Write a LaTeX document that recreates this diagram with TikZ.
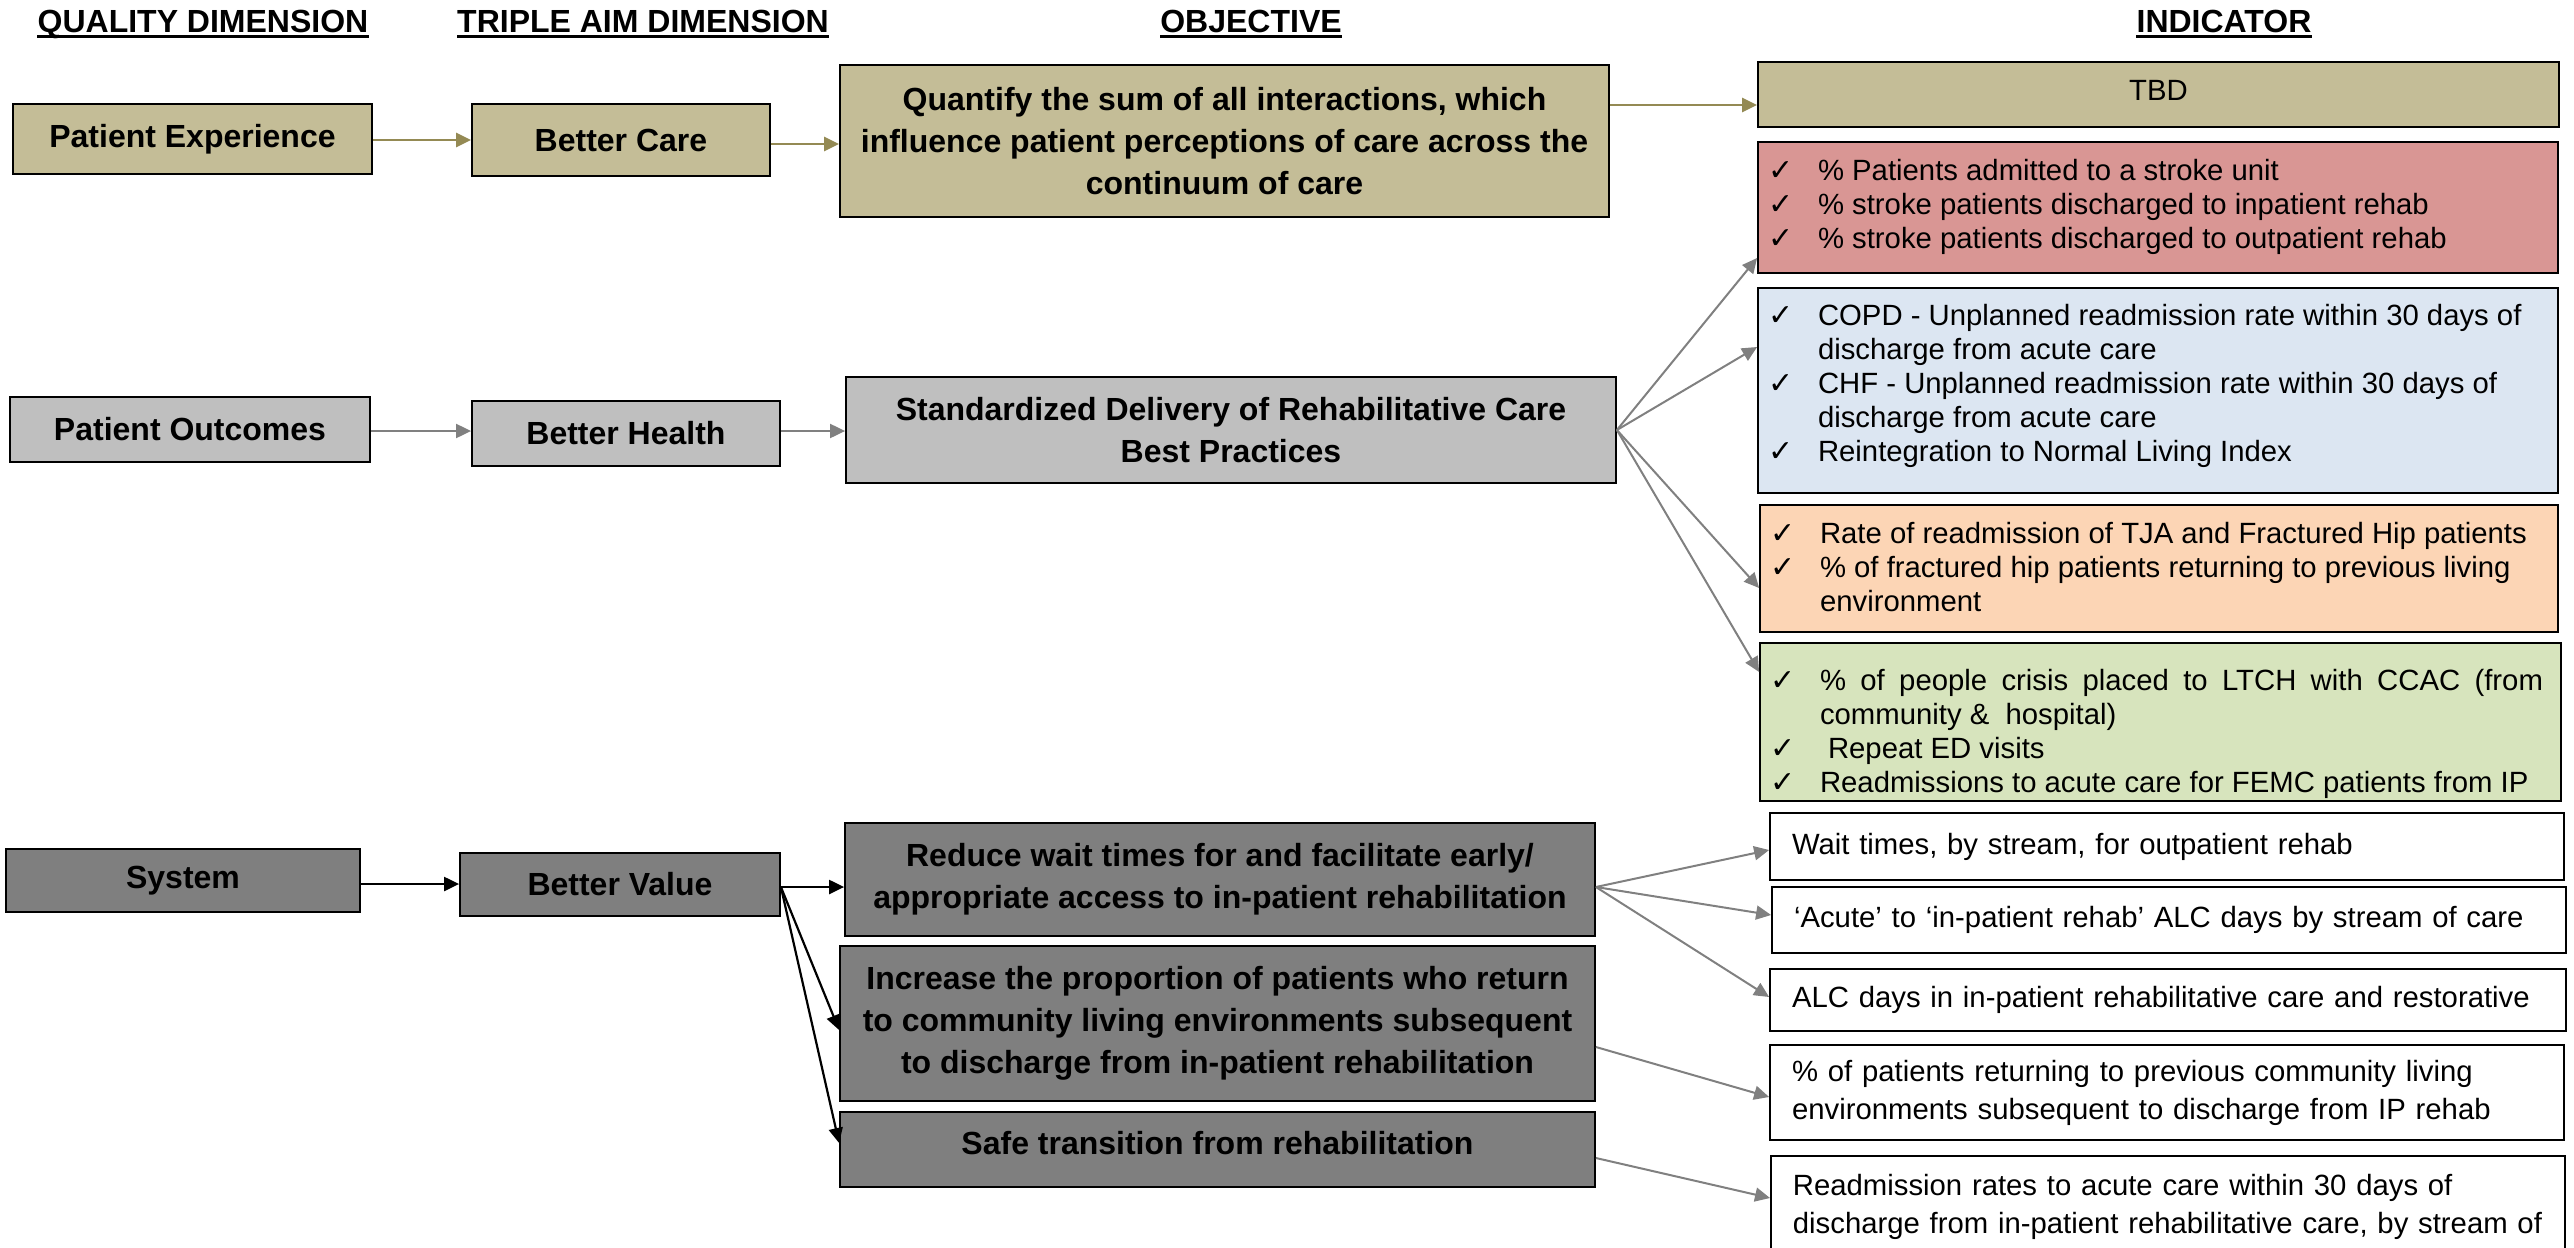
\documentclass[tikz,border=0pt]{standalone}
\usepackage{fontspec}
\setmainfont{Liberation Sans}
\newfontfamily\symf{DejaVu Sans}
\usetikzlibrary{arrows.meta,calc}
\definecolor{tanA}{HTML}{C4BD97}
\definecolor{oliveA}{HTML}{948A54}
\definecolor{lgray}{HTML}{BFBFBF}
\definecolor{dgray}{HTML}{7F7F7F}
\definecolor{redA}{HTML}{D99694}
\definecolor{blueA}{HTML}{DCE6F2}
\definecolor{orangeA}{HTML}{FCD5B5}
\definecolor{greenA}{HTML}{D7E4BD}
\definecolor{arrgray}{HTML}{808080}
\newlength\chkind \setlength\chkind{50pt}
\newcommand\chkA{\noindent\hangindent=\chkind\hangafter=1\makebox[\chkind][l]{{\symf\fontsize{30}{34}\selectfont ✓}}}
\newcommand\chk{\par\chkA}
\newcommand\indbox[2]{\begin{minipage}[t]{#1}\leftskip=0pt\rightskip=0pt\parfillskip=0pt plus 1fil\parindent=0pt #2\par\end{minipage}}
\tikzset{
 bx/.style={draw=black, line width=1.8pt, inner sep=0pt, align=center},
 lab/.style={bx, font=\fontsize{32}{42}\selectfont\bfseries},
 ind/.style={draw=black, line width=1.8pt, inner xsep=10pt, inner ysep=0pt, text height=21pt, font=\fontsize{29.3}{34}\selectfont},
 wbox/.style={draw=black, line width=1.8pt, fill=white, inner xsep=22pt, inner ysep=0pt, align=left, font=\fontsize{29.3}{38}\selectfont},
 hdr/.style={inner sep=0pt, font=\fontsize{32}{38}\selectfont\bfseries, anchor=base},
 arr/.style={-{Triangle[length=15pt,width=14pt]}},
 oarr/.style={arr, color=oliveA, line width=2.8pt},
 garr/.style={arr, color=arrgray, line width=2pt},
 barr/.style={arr, color=black, line width=2.2pt},
}
\begin{document}
\begin{tikzpicture}[x=1pt,y=-1pt]
\useasboundingbox (0,0) rectangle (2574,1247);
\clip (0,0) rectangle (2574,1247);
% headers
\node[hdr] (h1) at (203,33) {QUALITY DIMENSION};
\node[hdr] (h2) at (643,33) {TRIPLE AIM DIMENSION};
\node[hdr] (h3) at (1251,33) {OBJECTIVE};
\node[hdr] (h4) at (2224,33) {INDICATOR};
\foreach \h in {h1,h2,h3,h4}
  \draw[line width=3.5pt] ($(\h.base west)+(0,3.5)$) -- ($(\h.base east)+(0,3.5)$);
% row 1
\node[lab, fill=tanA, minimum width=359pt, minimum height=70pt] (pe) at (192.5,139) {Patient Experience};
\node[lab, fill=tanA, minimum width=298pt, minimum height=72pt] (bc) at (621,140) {Better Care};
\node[lab, fill=tanA, minimum width=769pt, minimum height=152pt] (q) at (1224.5,141) {Quantify the sum of all interactions, which\\ influence patient perceptions of care across the\\ continuum of care};
\node[bx, fill=tanA, minimum width=801pt, minimum height=65pt, font=\fontsize{29.3}{34}\selectfont, text depth=8pt] (tbd) at (2158.5,94.5) {TBD};
% indicator lists
\node[ind, fill=redA, minimum height=131pt, text depth=76pt] (red) at (2158,207.5) {\indbox{780pt}{%
\chkA \% Patients admitted to a stroke unit
\chk \% stroke patients discharged to inpatient rehab
\chk \% stroke patients discharged to outpatient rehab}};
\node[ind, fill=blueA, minimum height=205pt, text depth=152pt] (blue) at (2158,390.5) {\indbox{780pt}{%
\chkA COPD - Unplanned readmission rate within 30 days of\newline discharge from acute care
\chk CHF - Unplanned readmission rate within 30 days of\newline discharge from acute care
\chk Reintegration to Normal Living Index}};
\node[ind, fill=orangeA, minimum height=127pt, text depth=72pt] (orange) at (2159,568.5) {\indbox{778pt}{%
\chkA Rate of readmission of TJA and Fractured Hip patients
\chk \% of fractured hip patients returning to previous living\newline environment}};
\node[ind, fill=greenA, minimum height=158pt, text depth=85pt] (green) at (2160.5,722) {\indbox{781pt}{%
\chkA \makebox[\dimexpr\linewidth-\chkind-8pt][s]{\% of people crisis placed to LTCH with CCAC (from}\newline community \& \ hospital)
\chk \hspace*{8pt}Repeat ED visits
\chk Readmissions to acute care for FEMC patients from IP}};
% row 2
\node[lab, fill=lgray, minimum width=360pt, minimum height=65pt] (po) at (190,429.5) {Patient Outcomes};
\node[lab, fill=lgray, minimum width=308pt, minimum height=65pt] (bh) at (626,433.5) {Better Health};
\node[lab, fill=lgray, minimum width=770pt, minimum height=106pt] (std) at (1231,430) {Standardized Delivery of Rehabilitative Care\\ Best Practices};
% row 3
\node[lab, fill=dgray, minimum width=354pt, minimum height=63pt] (sys) at (183,880.5) {System};
\node[lab, fill=dgray, minimum width=320pt, minimum height=63pt] (bv) at (620,884.5) {Better Value};
\node[lab, fill=dgray, minimum width=750pt, minimum height=113pt] (red3) at (1220,879.5) {Reduce wait times for and facilitate early/\\ appropriate access to in-patient rehabilitation};
\node[lab, fill=dgray, minimum width=755pt, minimum height=155pt] (inc) at (1217.5,1023.5) {Increase the proportion of patients who return\\ to community living environments subsequent\\ to discharge from in-patient rehabilitation};
\node[lab, fill=dgray, minimum width=755pt, minimum height=75pt, text depth=14pt] (safe) at (1217.5,1149.5) {Safe transition from rehabilitation};
% white indicator boxes
\node[wbox, text width=750pt, minimum height=67pt] (wait) at (2167,846.5) {Wait times, by stream, for outpatient rehab};
\node[wbox, text width=750pt, minimum height=66pt] (acute) at (2169,920) {‘Acute’ to ‘in-patient rehab’ ALC days by stream of care};
\node[wbox, text width=752pt, minimum height=62pt] (alc) at (2168,1000) {ALC days in in-patient rehabilitative care and restorative};
\node[wbox, text width=750pt, minimum height=95pt] (pct) at (2167,1092.5) {\% of patients returning to previous community living\\ environments subsequent to discharge from IP rehab};
\node[wbox, anchor=north west, text width=750pt, inner ysep=19pt, text height=21pt, text depth=110pt] (rd) at (1770,1155) {Readmission rates to acute care within 30 days of\\ discharge from in-patient rehabilitative care, by stream of};
% connectors row 1
\draw[oarr] (pe.east |- 0,140) -- (bc.west |- 0,140);
\draw[oarr] (bc.east |- 0,144) -- (q.west |- 0,144);
\draw[oarr] (q.east |- 0,105) -- (tbd.west |- 0,105);
% row 2
\draw[garr] (po.east |- 0,431) -- (bh.west |- 0,431);
\draw[garr] (bh.east |- 0,431) -- (std.west |- 0,431);
\draw[garr] (std.east) -- (red.west |- 0,258);
\draw[garr] (std.east) -- (blue.west |- 0,347);
\draw[garr] (std.east) -- (orange.west |- 0,588);
\draw[garr] (std.east) -- (green.west |- 0,672);
% row 3
\draw[barr] (sys.east |- 0,884) -- (bv.west |- 0,884);
\draw[barr] (bv.east |- 0,887) -- (red3.west |- 0,887);
\draw[barr] (bv.east |- 0,887) -- (inc.west |- 0,1030);
\draw[barr] (bv.east |- 0,887) -- (safe.west |- 0,1143);
\draw[garr] (red3.east |- 0,887) -- (wait.west |- 0,850);
\draw[garr] (red3.east |- 0,887) -- (acute.west |- 0,915);
\draw[garr] (red3.east |- 0,887) -- (alc.west |- 0,997);
\draw[garr] (inc.east |- 0,1047) -- (pct.west |- 0,1097);
\draw[garr] (safe.east |- 0,1158) -- (rd.west |- 0,1198);
\end{tikzpicture}
\end{document}
